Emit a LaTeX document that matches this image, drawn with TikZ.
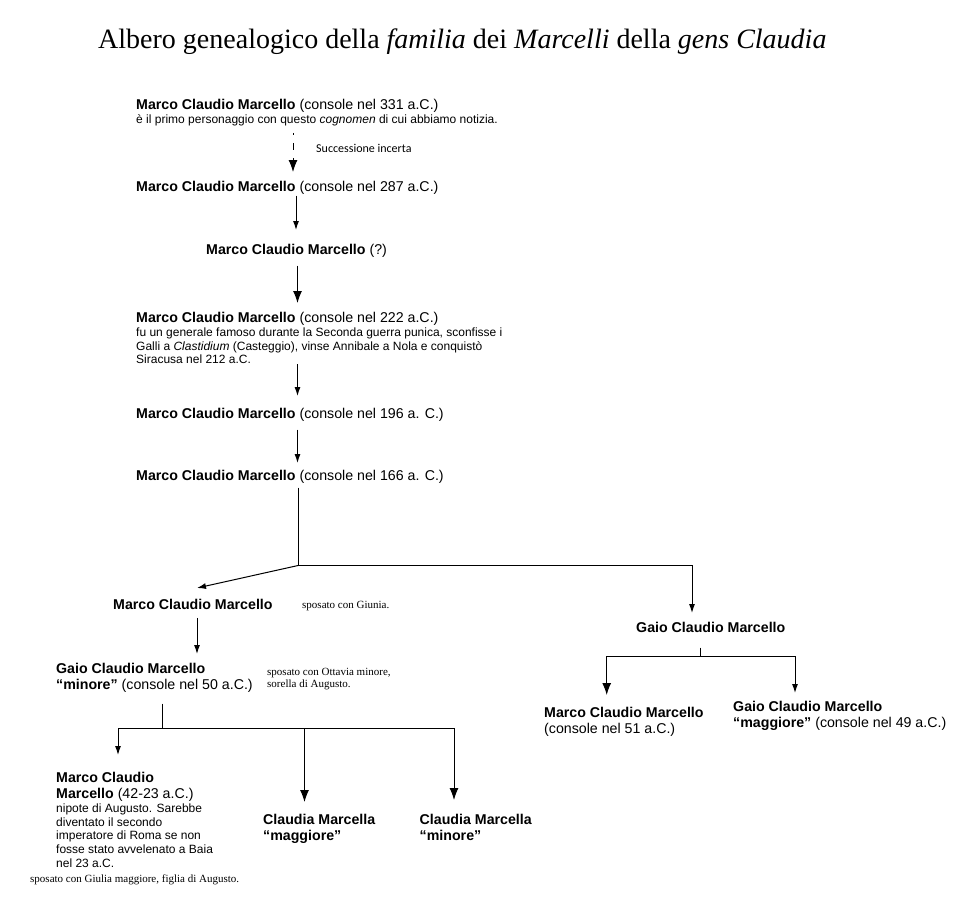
\documentclass[tikz,border=0pt]{standalone}
\usepackage{fontspec}
\setmainfont{Liberation Serif}
\setsansfont{Liberation Sans}
\newfontfamily\calfont{Carlito}
\usetikzlibrary{arrows.meta}

\newcommand{\persfont}{\sffamily\fontsize{14.2}{16}\selectfont}
\newcommand{\descfont}{\fontsize{12}{13.8}\selectfont}
\newcommand{\notefont}{\rmfamily\fontsize{11}{12}\selectfont}

\begin{document}
\begin{tikzpicture}[x=1pt,y=-1pt,
    person/.style={anchor=north west, inner sep=0pt, text width=420pt, align=flush left, font=\persfont},
    note/.style={anchor=base west, inner sep=0pt, font=\notefont},
    arr/.style={-{Latex[length=9pt,width=6pt]}, line width=1pt},
    bigarr/.style={-{Latex[length=12pt,width=9pt]}, line width=1pt},
    link/.style={line width=1pt}]
    \useasboundingbox (0,0) rectangle (960,906);

    \node[anchor=base west, inner sep=0pt, font=\rmfamily\fontsize{28}{30}\selectfont] (title) at (98,48)
        {Albero genealogico della \textit{familia} dei \textit{Marcelli} della \textit{gens Claudia}};

    % main line
    \node[person] (n1) at (136,99) {\textbf{Marco Claudio Marcello} (console nel 331 a.C.)\\
        \descfont è il primo personaggio con questo \textit{cognomen} di cui abbiamo notizia.\par};
    \node[person] (n2) at (136,181) {\textbf{Marco Claudio Marcello} (console nel 287 a.C.)};
    \node[person] (n3) at (206,244) {\textbf{Marco Claudio Marcello} (?)};
    \node[person] (n4) at (136,312) {\textbf{Marco Claudio Marcello} (console nel 222 a.C.)\\
        \descfont fu un generale famoso durante la Seconda guerra punica, sconfisse i\\
        Galli a \textit{Clastidium} (Casteggio), vinse Annibale a Nola e conquistò\\
        Siracusa nel 212 a.C.\par};
    \node[person] (n5) at (136,408) {\textbf{Marco Claudio Marcello} (console nel 196 a. C.)};
    \node[person] (n6) at (136,470) {\textbf{Marco Claudio Marcello} (console nel 166 a. C.)};
    \node[anchor=base west, inner sep=0pt, font=\calfont\fontsize{12}{14}\selectfont] (unc) at (316,152) {Successione incerta};

    % left branch
    \node[person] (n7) at (113,599) {\textbf{Marco Claudio Marcello}};
    \node[note] (g7) at (302,608) {sposato con Giunia.};
    \node[person] (n8) at (56,663) {\textbf{Gaio Claudio Marcello}\\ \textbf{“minore”} (console nel 50 a.C.)};
    \node[note, anchor=north west, align=left] (g8) at (267,668) {sposato con Ottavia minore,\\ sorella di Augusto.};
    \node[person] (n9) at (56,772) {\textbf{Marco Claudio}\\ \textbf{Marcello} (42-23 a.C.)\par
        \descfont nipote di Augusto. Sarebbe\\ diventato il secondo\\ imperatore di Roma se non\\
        fosse stato avvelenato a Baia\\ nel 23 a.C.\par};
    \node[note] (g9) at (30,882) {sposato con Giulia maggiore, figlia di Augusto.};
    \node[person] (n10) at (263,813.5) {\textbf{Claudia Marcella}\\ \textbf{“maggiore”}};
    \node[person] (n11) at (419.5,813.5) {\textbf{Claudia Marcella}\\ \textbf{“minore”}};

    % right branch
    \node[person] (n12) at (636,622) {\textbf{Gaio Claudio Marcello}};
    \node[person] (n13) at (544,707) {\textbf{Marco Claudio Marcello}\\ (console nel 51 a.C.)};
    \node[person] (n14) at (733,701) {\textbf{Gaio Claudio Marcello}\\ \textbf{“maggiore”} (console nel 49 a.C.)};

    % columns and joints
    \coordinate (xa) at (293,0);
    \coordinate (xb) at (296,0);
    \coordinate (xc) at (297.5,0);
    \coordinate (xd) at (197,0);
    \coordinate (j) at (298,565.5);
    \coordinate (k) at (162,728);
    \coordinate (k1) at (118,728);
    \coordinate (k2) at (304.5,728);
    \coordinate (k3) at (454,728);
    \coordinate (m) at (700,656);
    \coordinate (m1) at (606.7,656);
    \coordinate (m2) at (795,656);

    \draw[bigarr, dash pattern=on 2pt off 8pt on 7pt off 8pt, shorten <=7pt, shorten >=9pt] (n1.south -| xa) -- (n2.north -| xa);
    \draw[arr, shorten <=1pt, shorten >=14pt] (n2.south -| xb) -- (n3.north -| xb);
    \draw[bigarr, shorten <=8pt, shorten >=9pt] (n3.south -| xc) -- (n4.north -| xc);
    \draw[arr, shorten >=12pt] (n4.south -| xc) -- (n5.north -| xc);
    \draw[arr, shorten <=8pt, shorten >=7pt] (n5.south -| xc) -- (n6.north -| xc);
    \draw[link, shorten <=4pt] (n6.south -| j) -- (j);
    \draw[arr] (j) -- ([xshift=84pt,yshift=11pt]n7.north west);
    \draw[arr] (j) -| ([xshift=56pt,yshift=9pt]n12.north west);

    \draw[arr, shorten <=8pt, shorten >=9pt] (n7.south -| xd) -- (n8.north -| xd);
    \draw[link, shorten <=11pt] (n8.south -| k) -- (k);
    \draw[link] (k1) -- (k3);
    \draw[arr, shorten >=17pt] (k1) -- (k1 |- n9.north);
    \draw[bigarr, shorten >=11.5pt] (k2) -- (k2 |- n10.north);
    \draw[bigarr, shorten >=13.5pt] (k3) -- (k3 |- n11.north);

    \draw[link, shorten <=14.7pt] (n12.south -| m) -- (m);
    \draw[link] (m1) -- (m2);
    \draw[bigarr, shorten >=12pt] (m1) -- (m1 |- n13.north);
    \draw[arr, shorten >=8pt] (m2) -- (m2 |- n14.north);
\end{tikzpicture}
\end{document}
